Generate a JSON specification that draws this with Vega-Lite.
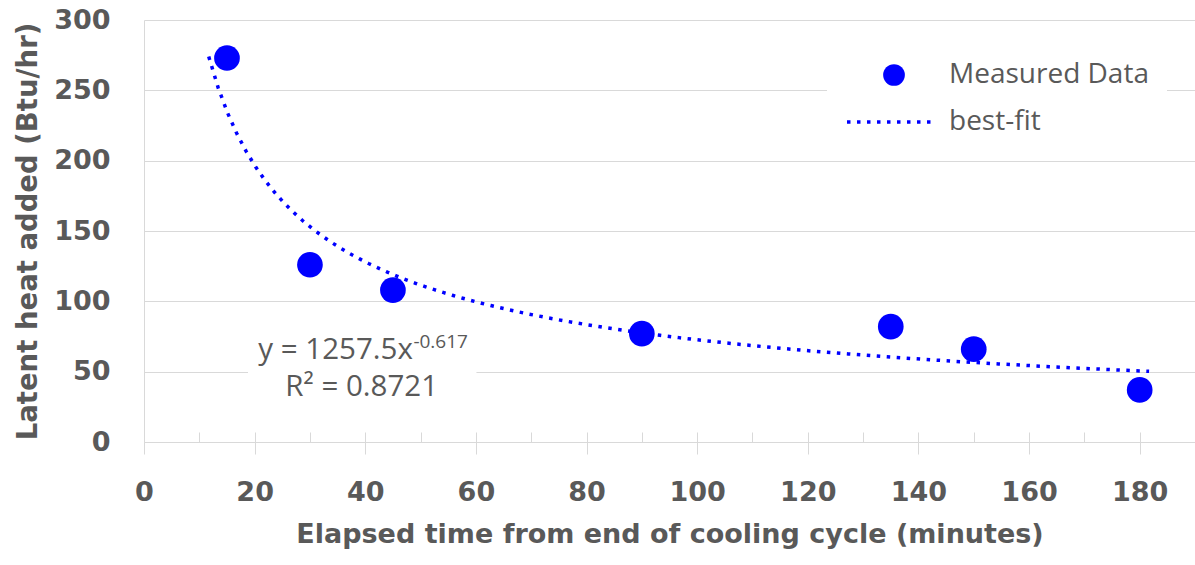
{
  "$schema": "https://vega.github.io/schema/vega-lite/v6.json",
  "width": 1051,
  "height": 422,
  "autosize": {"type": "none"},
  "padding": {"left": 144, "top": 20, "right": 0, "bottom": 123},
  "background": "white",
  "config": {"view": {"stroke": null}, "font": "Open Sans"},
  "data": {
    "values": [
      {"minutes": 15, "latent": 273},
      {"minutes": 30, "latent": 126},
      {"minutes": 45, "latent": 108},
      {"minutes": 90, "latent": 77},
      {"minutes": 135, "latent": 82},
      {"minutes": 150, "latent": 66},
      {"minutes": 180, "latent": 37}
    ]
  },
  "resolve": {"axis": {"x": "independent"}},
  "layer": [
    {
      "data": {"values": [{}]},
      "mark": {"type": "rect", "color": "white"},
      "encoding": {
        "x": {"datum": 18.8, "type": "quantitative", "axis": null},
        "x2": {"datum": 60.1},
        "y": {"datum": 74, "type": "quantitative"},
        "y2": {"datum": 30}
      }
    },
    {
      "transform": [{"regression": "latent", "on": "minutes", "method": "pow", "extent": [11.7, 181.7]}],
      "mark": {"type": "line", "strokeWidth": 3.5, "color": "#0000ff"},
      "encoding": {
        "x": {
          "field": "minutes", "type": "quantitative",
          "axis": {"orient": "bottom", "values": [0,10,20,30,40,50,60,70,80,90,100,110,120,130,140,150,160,170,180,190], "tickSize": -10, "tickColor": "#d9d9d9", "labels": false, "domain": false, "grid": false, "title": null}
        },
        "y": {"field": "latent", "type": "quantitative"},
        "strokeDash": {
          "datum": "best-fit",
          "scale": {"domain": ["best-fit"], "range": [[3.5, 6.5]]},
          "legend": {
            "orient": "none", "legendX": 683, "legendY": 69,
            "fillColor": "white", "padding": 18, "title": null, "clipHeight": 30,
            "labelFont": "Open Sans", "labelFontSize": 28, "labelColor": "#595959", "labelLimit": 400,
            "labelOffset": 13, "symbolType": "stroke", "symbolSize": 7569,
            "symbolStrokeWidth": 3.5, "symbolStrokeColor": "#0000ff"
          }
        }
      }
    },
    {
      "mark": {"type": "point", "filled": true, "opacity": 1, "size": 660, "shape": "circle"},
      "encoding": {
        "x": {
          "field": "minutes", "type": "quantitative",
          "scale": {"domain": [0, 190], "nice": false},
          "axis": {
            "orient": "bottom",
            "values": [0,20,40,60,80,100,120,140,160,180],
            "title": "Elapsed time from end of cooling cycle (minutes)",
            "grid": false, "domainColor": "#d9d9d9", "tickColor": "#d9d9d9", "tickSize": 12, "labelFlush": false,
            "labelFont": "DejaVu Sans", "labelFontWeight": "bold", "labelFontSize": 27, "labelColor": "#595959", "labelPadding": 25,
            "titleFont": "DejaVu Sans", "titleFontWeight": "bold", "titleFontSize": 27, "titleColor": "#595959", "titlePadding": 16
          }
        },
        "y": {
          "field": "latent", "type": "quantitative",
          "scale": {"domain": [0, 300], "nice": false},
          "axis": {
            "values": [0,50,100,150,200,250,300],
            "title": "Latent heat added (Btu/hr)",
            "grid": true, "gridColor": "#d9d9d9", "ticks": false, "domainColor": "#d9d9d9",
            "labelFont": "DejaVu Sans", "labelFontWeight": "bold", "labelFontSize": 27, "labelColor": "#595959", "labelPadding": 34,
            "titleFont": "DejaVu Sans", "titleFontWeight": "bold", "titleFontSize": 27.5, "titleColor": "#595959", "titlePadding": 11
          }
        },
        "color": {
          "datum": "Measured Data",
          "scale": {"domain": ["Measured Data"], "range": ["#0000ff"]},
          "legend": {
            "orient": "none", "legendX": 718, "legendY": 22,
            "fillColor": "white", "padding": 18, "title": null, "clipHeight": 30,
            "labelFont": "Open Sans", "labelFontSize": 28, "labelColor": "#595959", "labelLimit": 400,
            "labelOffset": 41, "symbolType": "circle", "symbolSize": 471, "symbolOpacity": 1
          }
        }
      }
    },
    {
      "data": {"values": [{}]},
      "mark": {"type": "text", "align": "right", "baseline": "middle", "fontSize": 29.5, "color": "#595959", "font": "Open Sans"},
      "encoding": {
        "x": {"datum": 48.6, "type": "quantitative", "axis": null},
        "y": {"datum": 65.2, "type": "quantitative"},
        "text": {"value": "y = 1257.5x"}
      }
    },
    {
      "data": {"values": [{}]},
      "mark": {"type": "text", "align": "left", "baseline": "middle", "fontSize": 19, "color": "#595959", "font": "Open Sans"},
      "encoding": {
        "x": {"datum": 48.7, "type": "quantitative", "axis": null},
        "y": {"datum": 71, "type": "quantitative"},
        "text": {"value": "-0.617"}
      }
    },
    {
      "data": {"values": [{}]},
      "mark": {"type": "text", "align": "center", "baseline": "middle", "fontSize": 29.5, "color": "#595959", "font": "Open Sans"},
      "encoding": {
        "x": {"datum": 39.35, "type": "quantitative", "axis": null},
        "y": {"datum": 39.2, "type": "quantitative"},
        "text": {"value": "R² = 0.8721"}
      }
    }
  ]
}
